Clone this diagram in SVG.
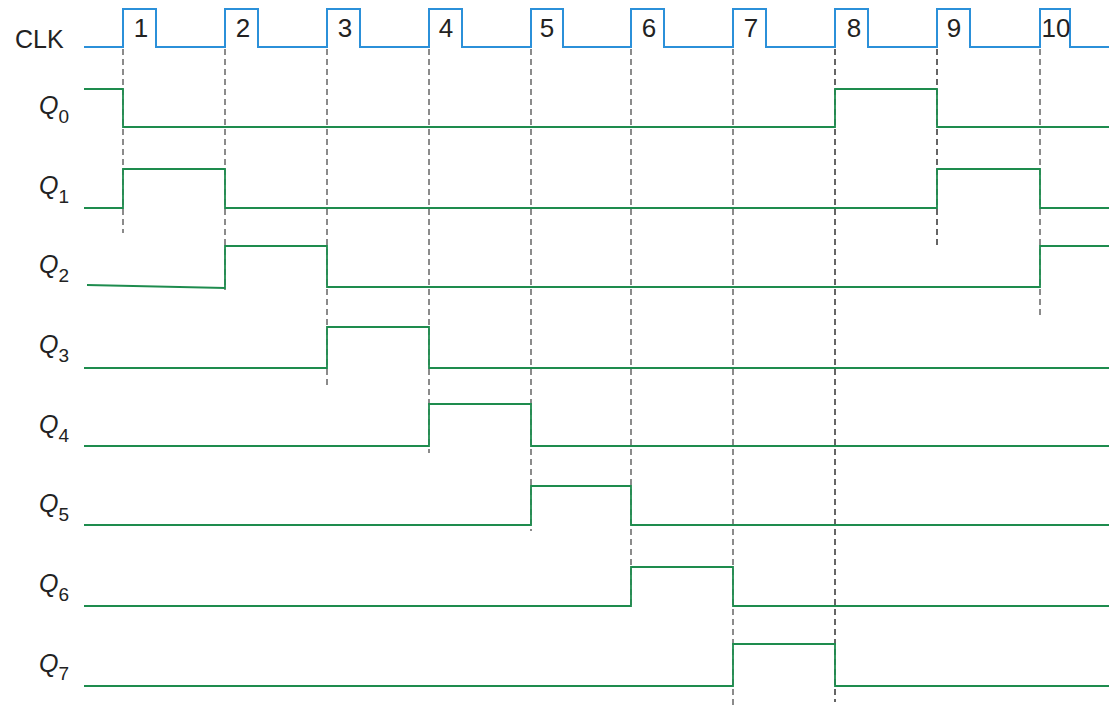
<svg xmlns="http://www.w3.org/2000/svg" width="1109" height="705" viewBox="0 0 1109 705">
<style>
.lbl{font-family:"Liberation Sans",Arial,sans-serif;fill:#222;}
.q{font-family:"Liberation Sans",Arial,sans-serif;font-style:italic;font-size:25px;fill:#222;}
.sub{font-style:normal;font-size:19px;}
.num{font-family:"Liberation Sans",Arial,sans-serif;font-size:26px;fill:#222;text-anchor:middle;}
.clk{fill:none;stroke:#2b90d9;stroke-width:2;}
.wave{fill:none;stroke:#1e8c4e;stroke-width:1.8;}
.guide{stroke:#666;stroke-width:1.5;stroke-dasharray:6 4;}
.guide.dark{stroke:#333;}
</style>
<rect width="1109" height="705" fill="#fff"/>
<g id="connectors">
<line class="guide" x1="123" y1="49" x2="123" y2="233"/>
<line class="guide" x1="225" y1="49" x2="225" y2="290"/>
<line class="guide" x1="327" y1="49" x2="327" y2="388"/>
<line class="guide" x1="429" y1="49" x2="429" y2="453"/>
<line class="guide" x1="531" y1="49" x2="531" y2="531"/>
<line class="guide" x1="631" y1="49" x2="631" y2="606"/>
<line class="guide" x1="733" y1="49" x2="733" y2="705"/>
<line class="guide dark" x1="835" y1="49" x2="835" y2="702"/>
<line class="guide dark" x1="937" y1="49" x2="937" y2="247"/>
<line class="guide" x1="1040" y1="49" x2="1040" y2="318"/>
</g>
<g id="clk">
<text class="lbl" x="15" y="48" font-size="25">CLK</text>
<path class="clk" d="M84 47H123V9H156V47H225V9H258V47H327V9H360V47H429V9H462V47H531V9H563V47H631V9H664V47H733V9H766V47H835V9H868V47H937V9H970V47H1040V9H1070V47H1109"/>
<text class="num" x="141" y="37">1</text>
<text class="num" x="243" y="37">2</text>
<text class="num" x="345" y="37">3</text>
<text class="num" x="446" y="37">4</text>
<text class="num" x="547" y="37">5</text>
<text class="num" x="649" y="37">6</text>
<text class="num" x="751" y="37">7</text>
<text class="num" x="854" y="37">8</text>
<text class="num" x="954" y="37">9</text>
<text class="num" x="1056" y="37">10</text>
</g>
<g id="q0">
<text class="q" x="39" y="114">Q<tspan class="sub" dy="9">0</tspan></text>
<path class="wave" d="M84 89H123V127H835V89H937V127H1109"/>
</g>
<g id="q1">
<text class="q" x="39" y="194">Q<tspan class="sub" dy="9">1</tspan></text>
<path class="wave" d="M84 208H123V169H225V208H937V169H1040V208H1109"/>
</g>
<g id="q2">
<text class="q" x="39" y="273">Q<tspan class="sub" dy="9">2</tspan></text>
<path class="wave" d="M87 285L225 288V246H327V287H1040V246H1109"/>
</g>
<g id="q3">
<text class="q" x="39" y="353">Q<tspan class="sub" dy="9">3</tspan></text>
<path class="wave" d="M84 368H327V327H429V368H1109"/>
</g>
<g id="q4">
<text class="q" x="39" y="433">Q<tspan class="sub" dy="9">4</tspan></text>
<path class="wave" d="M84 446H429V404H531V446H1109"/>
</g>
<g id="q5">
<text class="q" x="39" y="512">Q<tspan class="sub" dy="9">5</tspan></text>
<path class="wave" d="M84 525H531V486H631V525H1109"/>
</g>
<g id="q6">
<text class="q" x="39" y="592">Q<tspan class="sub" dy="9">6</tspan></text>
<path class="wave" d="M84 606H631V567H733V606H1109"/>
</g>
<g id="q7">
<text class="q" x="39" y="672">Q<tspan class="sub" dy="8">7</tspan></text>
<path class="wave" d="M84 686H733V644H835V686H1109"/>
</g>
</svg>
